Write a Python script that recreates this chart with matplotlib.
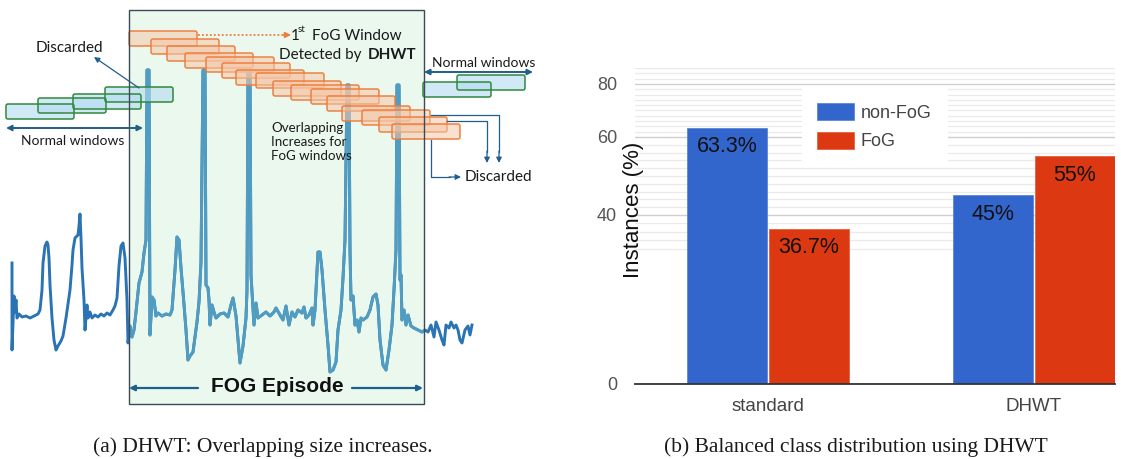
import numpy as np
import matplotlib
matplotlib.use("Agg")
import matplotlib.pyplot as plt
from matplotlib.patches import FancyBboxPatch, Rectangle

# ---------------- bar chart data ----------------
categories = ["standard", "DHWT"]
series_names = ["non-FoG", "FoG"]
non_fog = [63.3, 45.0]
fog = [36.7, 55.0]
non_fog_labels = ["63.3%", "45%"]
fog_labels = ["36.7%", "55%"]
y_ticks = [0, 40, 60, 80]

# ---------------- schematic data ----------------
# sensor trace (schematic coordinates, y grows downward)
trace_x = [12, 12, 14, 15, 16, 17, 19, 22, 26, 30, 34, 38, 40, 42, 43, 45, 47, 48, 49, 50,
           52, 54, 56, 58, 61, 63, 66, 68, 70, 72, 73, 75, 78, 79, 80, 81, 82, 84, 85, 87,
           88, 90, 92, 95, 98, 101, 104, 107, 110, 113, 115, 117, 119, 121, 123, 125, 127, 128,
           130, 132, 134, 136, 139, 142, 144, 146, 147, 149, 150, 152, 154, 156, 158, 162, 166, 170,
           172, 175, 177, 179, 181, 183, 186, 188, 190, 193, 197, 199, 201, 203, 205, 206, 208, 209,
           210, 212, 214, 216, 220, 224, 228, 231, 233, 236, 238, 240, 243, 246, 247, 248, 250, 251,
           252, 254, 256, 258, 262, 266, 270, 274, 276, 280, 283, 286, 289, 292, 295, 298, 302, 304,
           306, 309, 312, 313, 315, 318, 320, 322, 325, 328, 330, 333, 336, 338, 341, 343, 345, 347,
           349, 350, 351, 353, 355, 357, 359, 361, 363, 367, 370, 373, 376, 378, 380, 383, 386, 389,
           392, 394, 396, 397, 399, 400, 401, 402, 404, 406, 408, 411, 414, 418, 422, 425,
           428, 431, 434, 436, 439, 442, 444, 446, 449, 451, 454, 456, 458, 460, 462, 465, 468, 470, 472]
trace_y = [263, 350, 296, 312, 300, 318, 314, 317, 316, 318, 316, 314, 310, 290, 263, 246, 242, 245, 258, 285,
           318, 340, 350, 346, 341, 336, 318, 304, 290, 265, 250, 238, 235, 226, 214, 238, 268, 300, 330, 305,
           318, 312, 318, 315, 317, 314, 316, 313, 315, 310, 306, 298, 266, 246, 243, 258, 300, 343,
           326, 337, 330, 312, 283, 272, 253, 240, 70, 70, 335, 297, 300, 316, 313, 316, 314, 315,
           310, 270, 237, 240, 268, 292, 330, 360, 356, 352, 322, 302, 262, 70, 70, 285, 288, 300,
           325, 305, 312, 318, 314, 313, 317, 305, 298, 316, 340, 363, 346, 318, 290, 73, 73, 275,
           292, 325, 303, 318, 315, 312, 316, 312, 308, 315, 320, 306, 325, 312, 317, 310, 313, 307,
           318, 315, 308, 325, 310, 252, 252, 270, 310, 345, 372, 370, 362, 330, 310, 278, 240, 85,
           85, 250, 300, 296, 325, 320, 332, 318, 320, 317, 310, 297, 294, 305, 340, 365, 370, 350,
           325, 290, 250, 85, 85, 280, 275, 320, 310, 325, 315, 326, 328, 330, 332, 330,
           332, 325, 337, 322, 330, 340, 345, 325, 328, 322, 328, 325, 330, 340, 343, 330, 326, 335, 325]

# sliding windows: left edge and top edge
fog_win_x = [129, 151, 167, 185, 206, 222, 236, 256, 273, 291, 311, 327, 342, 362, 379, 392]
fog_win_y = [31, 39, 46, 53, 57, 63, 70, 73, 81, 85, 89, 96, 106, 110, 117, 124]
normal_left_x = [6, 38, 73, 105]
normal_left_y = [104, 98, 94, 87]
normal_right_x = [423, 457]
normal_right_y = [82, 75]

W, H = 1121, 459
fig = plt.figure(figsize=(W / 100, H / 100), dpi=100)
fig.patch.set_facecolor("white")

def fx(x):
    return x / W

def fy(y):
    return 1 - y / H

# ======================= left: DHWT schematic =======================
ax = fig.add_axes([0, 0, 560 / W, 1])
ax.set_xlim(0, 560)
ax.set_ylim(H, 0)
ax.axis("off")

diag_font = "Lato"
arrow_blue = "#1f5f8b"
win_w, win_h = 68, 15

box_x0, box_x1, box_y0, box_y1 = 128.5, 423.5, 9.5, 404
episode = Rectangle((box_x0, box_y0), box_x1 - box_x0, box_y1 - box_y0,
                    facecolor="#eaf8ee", edgecolor="none", zorder=1)
ax.add_patch(episode)

# trace: full darker line, lighter copy inside the episode box
ax.plot(trace_x, trace_y, color="#2a74b4", lw=2.1, solid_joinstyle="round", zorder=2)
inner = ax.plot(trace_x, trace_y, color="#519dc2", lw=2.1, solid_joinstyle="round", zorder=2.1)[0]
clip_rect = Rectangle((box_x0, box_y0), box_x1 - box_x0, box_y1 - box_y0, transform=ax.transData)
inner.set_clip_path(clip_rect)

ax.add_patch(Rectangle((box_x0, box_y0), box_x1 - box_x0, box_y1 - box_y0,
                       facecolor="none", edgecolor="#3b4a56", lw=1.0, zorder=8))

# normal windows
for x0, y0 in list(zip(normal_left_x, normal_left_y)) + list(zip(normal_right_x, normal_right_y)):
    ax.add_patch(FancyBboxPatch((x0, y0), win_w, win_h,
                                boxstyle="round,pad=0,rounding_size=2",
                                facecolor="#b3dbf0", alpha=0.6, edgecolor="none", zorder=4))
    ax.add_patch(FancyBboxPatch((x0, y0), win_w, win_h,
                                boxstyle="round,pad=0,rounding_size=2",
                                facecolor="none", edgecolor="#2f8a3c", lw=1.1, zorder=4.1))

# FoG windows
for i, (x0, y0) in enumerate(zip(fog_win_x, fog_win_y)):
    ax.add_patch(FancyBboxPatch((x0, y0), win_w, win_h,
                                boxstyle="round,pad=0,rounding_size=2",
                                facecolor="#f5c7a8", alpha=0.55, edgecolor="none", zorder=5 + i * 0.01))
    ax.add_patch(FancyBboxPatch((x0, y0), win_w, win_h,
                                boxstyle="round,pad=0,rounding_size=2",
                                facecolor="none", edgecolor="#ee7b3a", lw=1.1, alpha=0.95,
                                zorder=5.005 + i * 0.01))

# first FoG window pointer (dotted)
ax.plot([fog_win_x[0] + win_w + 1, 284], [35, 35], color="#ee7b3a", lw=1.3,
        linestyle=(0, (1, 1.2)), zorder=7)
ax.annotate("", xy=(291, 35), xytext=(283, 35),
            arrowprops=dict(arrowstyle="-|>", color="#ee7b3a", lw=1.0,
                            mutation_scale=9, shrinkA=0, shrinkB=0), zorder=7)
ax.text(291, 36, "1", fontsize=11, family=diag_font, color="#1a1a1a", va="center", ha="left", zorder=9)
ax.text(298, 30, "st", fontsize=7, family=diag_font, color="#1a1a1a", va="center", ha="left", zorder=9)
ax.text(312, 36, "FoG Window", fontsize=11, family=diag_font, color="#1a1a1a", va="center", ha="left", zorder=9)
ax.text(279, 55, "Detected by", fontsize=11, family=diag_font, color="#1a1a1a", va="center", ha="left", zorder=9)
ax.text(368, 55, "DHWT", fontsize=11, family=diag_font, weight="bold", color="#1a1a1a",
        va="center", ha="left", zorder=9)

ax.text(271, 142, "Overlapping\nIncreases for\nFoG windows", fontsize=9.6, family=diag_font,
        color="#1a1a1a", va="center", ha="left", linespacing=1.2, zorder=9)

# left annotations
ax.text(69, 48, "Discarded", fontsize=11, family=diag_font, color="#1a1a1a",
        ha="center", va="center", zorder=9)
ax.annotate("", xy=(94, 57), xytext=(139, 88),
            arrowprops=dict(arrowstyle="-|>", color=arrow_blue, lw=0.9,
                            mutation_scale=8, shrinkA=0, shrinkB=0), zorder=9)
ax.annotate("", xy=(6, 128), xytext=(143, 128),
            arrowprops=dict(arrowstyle="<|-|>", color=arrow_blue, lw=1.4,
                            mutation_scale=8, shrinkA=0, shrinkB=0), zorder=9)
ax.text(73, 141, "Normal windows", fontsize=10, family=diag_font, color="#1a1a1a",
        ha="center", va="center", zorder=9)

# right annotations
ax.annotate("", xy=(424, 72), xytext=(533, 72),
            arrowprops=dict(arrowstyle="<|-|>", color=arrow_blue, lw=1.4,
                            mutation_scale=8, shrinkA=0, shrinkB=0), zorder=9)
ax.text(484, 63, "Normal windows", fontsize=10, family=diag_font, color="#1a1a1a",
        ha="center", va="center", zorder=9)

ax.plot([431, 499, 499], [115, 115, 152], color=arrow_blue, lw=0.9, zorder=9)
ax.annotate("", xy=(499, 163), xytext=(499, 151),
            arrowprops=dict(arrowstyle="-|>", color=arrow_blue, lw=0.9,
                            mutation_scale=8, shrinkA=0, shrinkB=0), zorder=9)
ax.plot([447, 487, 487], [121, 121, 152], color=arrow_blue, lw=0.9, zorder=9)
ax.annotate("", xy=(487, 163), xytext=(487, 151),
            arrowprops=dict(arrowstyle="-|>", color=arrow_blue, lw=0.9,
                            mutation_scale=8, shrinkA=0, shrinkB=0), zorder=9)
ax.plot([431, 431, 450], [140, 177, 177], color=arrow_blue, lw=0.9, zorder=9)
ax.annotate("", xy=(461, 177), xytext=(449, 177),
            arrowprops=dict(arrowstyle="-|>", color=arrow_blue, lw=0.9,
                            mutation_scale=8, shrinkA=0, shrinkB=0), zorder=9)
ax.text(465, 177, "Discarded", fontsize=11, family=diag_font, color="#1a1a1a",
        ha="left", va="center", zorder=9)

# episode span
ax.annotate("", xy=(129, 388), xytext=(198, 388),
            arrowprops=dict(arrowstyle="-|>", color=arrow_blue, lw=1.6,
                            mutation_scale=8, shrinkA=0, shrinkB=0), zorder=9)
ax.annotate("", xy=(423, 388), xytext=(352, 388),
            arrowprops=dict(arrowstyle="-|>", color=arrow_blue, lw=1.6,
                            mutation_scale=8, shrinkA=0, shrinkB=0), zorder=9)
ax.text(277, 387, "FOG Episode", fontsize=15, family="Liberation Sans", weight="bold",
        color="#111111", ha="center", va="center", zorder=9)

# ======================= right: class distribution =======================
base_px, top_px = 384, 68
left_px, right_px = 635, 1115
bx = fig.add_axes([fx(left_px), fy(base_px), (right_px - left_px) / W, (base_px - top_px) / H])

scale_vals = [-100, 0, 40, 60, 80, 200]
scale_pos = [-420, 0, 169, 247, 300, 618]

def fwd(v):
    return np.interp(v, scale_vals, scale_pos)

def inv(p):
    return np.interp(p, scale_pos, scale_vals)

bx.set_yscale("function", functions=(fwd, inv))
bx.set_ylim(0, 86)
bx.set_xlim(-0.5, 1.305)

x = np.arange(len(categories))
bw = 0.301
off = 0.153
b1 = bx.bar(x - off, non_fog, width=bw, color="#3366cc", edgecolor="#5b87d8", lw=0.6,
            zorder=3, label=series_names[0])
b2 = bx.bar(x + off, fog, width=bw, color="#dc3912", edgecolor="#e5603f", lw=0.6,
            zorder=3, label=series_names[1])

for xi, v, s in zip(x - off, non_fog, non_fog_labels):
    bx.annotate(s, (xi, v), xytext=(0, -13.5), textcoords="offset points", ha="center",
                va="center", fontsize=15.5, family="Liberation Sans", color="#111111", zorder=4)
for xi, v, s in zip(x + off, fog, fog_labels):
    bx.annotate(s, (xi, v), xytext=(0, -13.5), textcoords="offset points", ha="center",
                va="center", fontsize=15.5, family="Liberation Sans", color="#111111", zorder=4)

bx.set_yticks(y_ticks)
bx.set_yticklabels([str(t) for t in y_ticks])
minor = [m for m in np.arange(32, 87, 2) if m % 20 != 0]
bx.set_yticks(minor, minor=True)
bx.yaxis.grid(True, which="major", color="#cfcfcf", lw=1.0, zorder=0)
bx.yaxis.grid(True, which="minor", color="#eaeaea", lw=0.9, zorder=0)
bx.set_axisbelow(True)
bx.tick_params(axis="y", which="both", length=0, pad=13, labelsize=13, labelcolor="#555555")
bx.tick_params(axis="x", length=0, pad=10, labelsize=13.5, labelcolor="#444444")
for lab in bx.get_yticklabels() + bx.get_xticklabels():
    lab.set_family("Liberation Sans")
bx.set_xticks(x)
bx.set_xticklabels(categories)
for side in ("left", "right", "top"):
    bx.spines[side].set_visible(False)
bx.spines["bottom"].set_color("#333333")
bx.spines["bottom"].set_linewidth(1.3)
bx.spines["bottom"].set_zorder(5)
bx.set_facecolor("none")

leg = bx.legend(loc="upper left", bbox_to_anchor=((802 - left_px) / (right_px - left_px),
                                                  (base_px - 88) / (base_px - top_px)),
                borderaxespad=0, frameon=True, fancybox=False, facecolor="white",
                edgecolor="white", framealpha=1, handlelength=2.05, handleheight=1.05,
                handletextpad=0.35, labelspacing=0.55, borderpad=0.85,
                prop={"family": "Liberation Sans", "size": 13})
for t in leg.get_texts():
    t.set_color("#444444")
leg.set_zorder(6)

fig.text(fx(634), fy(210), "Instances (%)", rotation=90, ha="center", va="center",
         fontsize=16, family="Liberation Sans", color="#111111")

# ======================= captions =======================
fig.text(fx(263), fy(447), "(a) DHWT: Overlapping size increases.", ha="center", va="center",
         fontsize=15.5, family="Liberation Serif", color="#1a1a1a")
fig.text(fx(856), fy(447), "(b) Balanced class distribution using DHWT", ha="center", va="center",
         fontsize=15.5, family="Liberation Serif", color="#1a1a1a")

fig.savefig("out.png", dpi=100, facecolor="white")
